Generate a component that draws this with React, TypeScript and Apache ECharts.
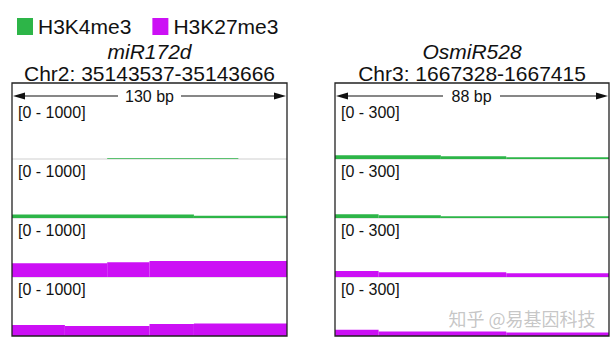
import React, { useEffect, useRef } from "react";
import * as echarts from "echarts";

const FONT = '"Liberation Sans", Arial, Helvetica, sans-serif';

const markNames = ["H3K4me3", "H3K27me3"];
const markColors = ["#2db548", "#cc10f5"];

// Left locus
const leftGene = "miR172d";
const leftLocus = "Chr2: 35143537-35143666";
const leftSpanBp = 130;
const leftScaleLabel = "[0 - 1000]";
const leftMax = 1000;
// bins: [startBp, endBp, signal]
const leftH3K4me3A = [[0, 45, 0], [45, 107, 14], [107, 130, 0]];
const leftH3K4me3B = [[0, 86, 58], [86, 130, 40]];
const leftH3K27me3A = [[0, 45, 232], [45, 65, 249], [65, 130, 271]];
const leftH3K27me3B = [[0, 25, 186], [25, 65, 170], [65, 86, 203], [86, 130, 210]];

// Right locus
const rightGene = "OsmiR528";
const rightLocus = "Chr3: 1667328-1667415";
const rightSpanBp = 88;
const rightScaleLabel = "[0 - 300]";
const rightMax = 300;
const rightH3K4me3A = [[0, 34, 19], [34, 55, 14], [55, 88, 9]];
const rightH3K4me3B = [[0, 14, 19], [14, 34, 14], [34, 88, 9]];
const rightH3K27me3A = [[0, 14, 30], [14, 55, 24], [55, 88, 19]];
const rightH3K27me3B = [[0, 14, 32], [14, 55, 23], [55, 88, 18]];

const watermark = "知乎 @易基因科技";

export default function App() {
  const ref = useRef<HTMLDivElement>(null);

  useEffect(() => {
    if (!ref.current) return;
    const chart = echarts.init(ref.current, null, { renderer: "svg" });

    const panels = [
      {
        left: 12, width: 275, span: leftSpanBp, max: leftMax, label: leftScaleLabel,
        gene: leftGene, locus: leftLocus, bp: `${leftSpanBp} bp`, gap: [118, 181],
        tracks: [
          { data: leftH3K4me3A, mark: 0 },
          { data: leftH3K4me3B, mark: 0 },
          { data: leftH3K27me3A, mark: 1 },
          { data: leftH3K27me3B, mark: 1 },
        ],
      },
      {
        left: 335, width: 274, span: rightSpanBp, max: rightMax, label: rightScaleLabel,
        gene: rightGene, locus: rightLocus, bp: `${rightSpanBp} bp`, gap: [443, 500],
        tracks: [
          { data: rightH3K4me3A, mark: 0 },
          { data: rightH3K4me3B, mark: 0 },
          { data: rightH3K27me3A, mark: 1 },
          { data: rightH3K27me3B, mark: 1 },
        ],
      },
    ];

    const trackTops = [100, 159, 218, 277];
    const trackH = 59;
    const panelTop = 83;
    const panelBottom = 336;

    const grid: any[] = [];
    const xAxis: any[] = [];
    const yAxis: any[] = [];
    const series: any[] = [];
    const graphic: any[] = [];

    panels.forEach((p, pi) => {
      const cx = p.left + p.width / 2;
      graphic.push({
        type: "text", x: cx, y: 51, z: 20,
        style: { text: p.gene, font: `italic 21px ${FONT}`, lineHeight: 19, fill: "#111", align: "center", verticalAlign: "middle" },
      });
      graphic.push({
        type: "text", x: cx, y: 73, z: 20,
        style: { text: p.locus, font: `21px ${FONT}`, lineHeight: 19, fill: "#111", align: "center", verticalAlign: "middle" },
      });
      graphic.push({
        type: "rect", z: 20,
        shape: { x: p.left, y: panelTop, width: p.width, height: panelBottom - panelTop },
        style: { fill: "none", stroke: "#222", lineWidth: 1.3 },
      });
      const ay = 96;
      const l = p.left + 1, r = p.left + p.width - 1;
      graphic.push({ type: "line", z: 20, shape: { x1: l + 8, y1: ay, x2: p.gap[0], y2: ay }, style: { stroke: "#111", lineWidth: 1.2 } });
      graphic.push({ type: "line", z: 20, shape: { x1: p.gap[1], y1: ay, x2: r - 8, y2: ay }, style: { stroke: "#111", lineWidth: 1.2 } });
      graphic.push({ type: "polygon", z: 20, shape: { points: [[l, ay], [l + 12, ay - 3.5], [l + 12, ay + 3.5]] }, style: { fill: "#111" } });
      graphic.push({ type: "polygon", z: 20, shape: { points: [[r, ay], [r - 12, ay - 3.5], [r - 12, ay + 3.5]] }, style: { fill: "#111" } });
      graphic.push({
        type: "text", x: (p.gap[0] + p.gap[1]) / 2, y: ay, z: 20,
        style: { text: p.bp, font: `16px ${FONT}`, fill: "#111", align: "center", verticalAlign: "middle" },
      });

      p.tracks.forEach((t, ti) => {
        const gi = pi * 4 + ti;
        const top = trackTops[ti];
        grid.push({ left: p.left, top, width: p.width, height: trackH, containLabel: false });
        xAxis.push({ type: "value", gridIndex: gi, min: 0, max: p.span, show: false });
        yAxis.push({ type: "value", gridIndex: gi, min: 0, max: p.max, show: false });
        if (ti < 3) {
          graphic.push({
            type: "line", z: 0,
            shape: { x1: p.left, y1: top + trackH, x2: p.left + p.width, y2: top + trackH },
            style: { stroke: "#cfcfcf", lineWidth: 1.2 },
          });
        }
        graphic.push({
          type: "text", x: p.left + 6, y: top + 12, z: 20,
          style: { text: p.label, font: `16px ${FONT}`, fill: "#111", align: "left", verticalAlign: "middle" },
        });
        const color = markColors[t.mark];
        series.push({
          type: "custom",
          name: markNames[t.mark],
          xAxisIndex: gi,
          yAxisIndex: gi,
          itemStyle: { color },
          encode: { x: [0, 1], y: 2 },
          clip: true,
          data: t.data,
          renderItem: (params: any, api: any) => {
            const a = api.coord([api.value(0), api.value(2)]);
            const b = api.coord([api.value(1), 0]);
            return {
              type: "rect",
              shape: { x: a[0], y: a[1], width: b[0] - a[0], height: b[1] - a[1] },
              style: { fill: color },
            };
          },
        });
      });
    });

    graphic.push({
      type: "text", x: 522, y: 318, z: 30,
      style: { text: watermark, font: `18px "Noto Sans CJK SC", sans-serif`, fill: "rgba(150,150,150,0.55)", align: "center", verticalAlign: "middle" },
    });

    chart.setOption({
      animation: false,
      backgroundColor: "#ffffff",
      legend: {
        data: markNames.map((n) => ({ name: n, icon: "rect" })),
        left: 12,
        top: 11,
        itemWidth: 16,
        itemHeight: 17,
        itemGap: 21,
        textStyle: { fontSize: 21, fontFamily: FONT, color: "#111", padding: [0, 0, 0, 0] },
        selectedMode: false,
      },
      grid,
      xAxis,
      yAxis,
      series,
      graphic,
    });

    return () => chart.dispose();
  }, []);

  return (
    <div
      ref={ref}
      style={{ position: "fixed", left: 0, top: 0, width: 613, height: 344, background: "#fff" }}
    />
  );
}
